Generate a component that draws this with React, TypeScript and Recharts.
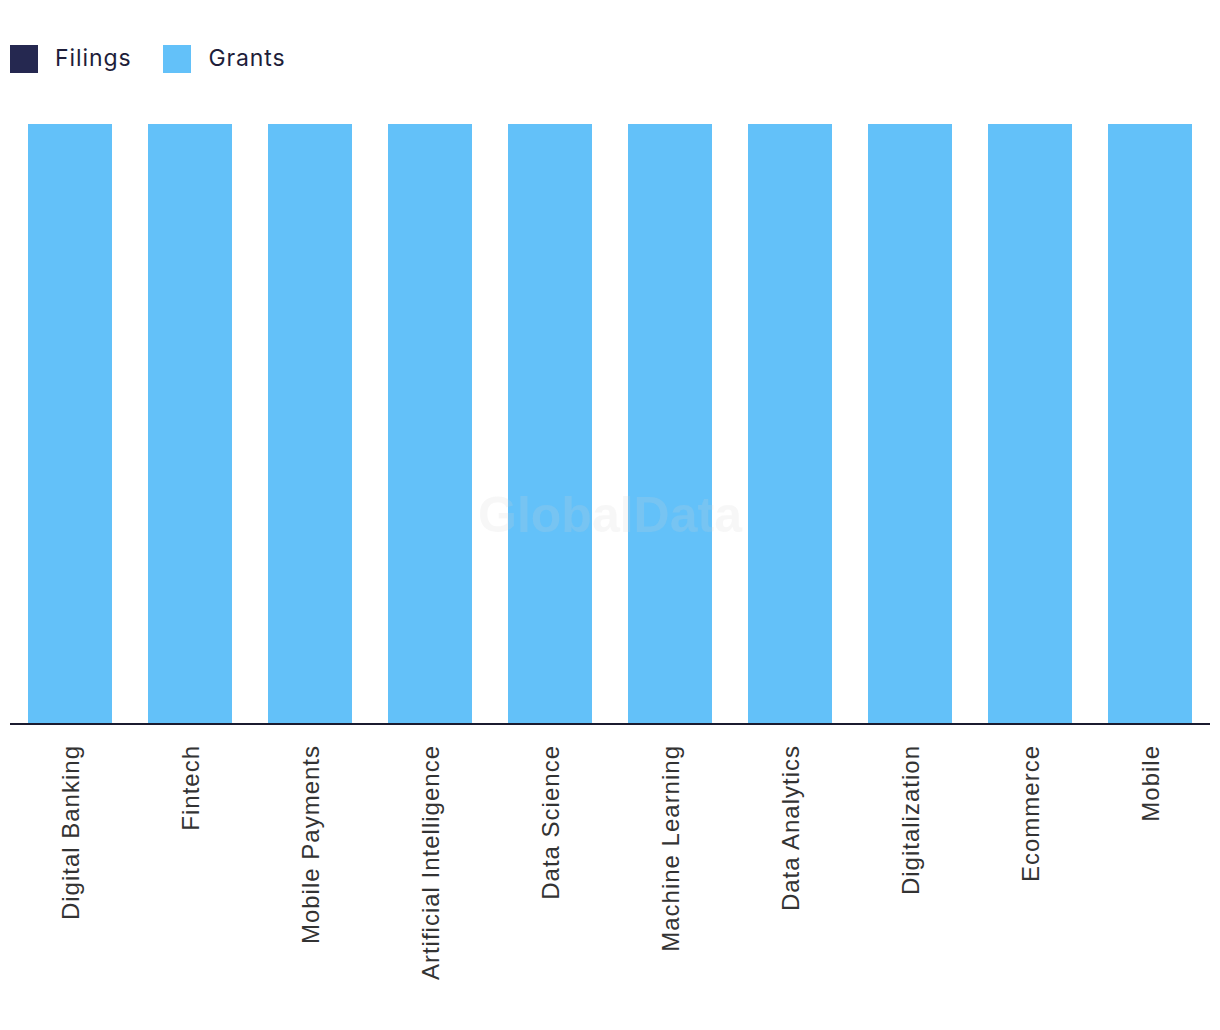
import { BarChart, Bar, XAxis, YAxis } from "recharts";

const categories = [
  "Digital Banking",
  "Fintech",
  "Mobile Payments",
  "Artificial Intelligence",
  "Data Science",
  "Machine Learning",
  "Data Analytics",
  "Digitalization",
  "Ecommerce",
  "Mobile",
];
const filings = [0, 0, 0, 0, 0, 0, 0, 0, 0, 0];
const grants = [100, 100, 100, 100, 100, 100, 100, 100, 100, 100];

const FILINGS_COLOR = "#252850";
const GRANTS_COLOR = "#63c1f9";

const data = categories.map((name, i) => ({
  name,
  filings: filings[i],
  grants: grants[i],
}));

function RotatedTick(props: any) {
  const { x, y, payload } = props;
  const ty = y + 21;
  return (
    <text
      x={x}
      y={ty}
      transform={`rotate(-90 ${x} ${ty})`}
      textAnchor="end"
      dominantBaseline="central"
      fill="#333333"
      fontSize={24}
      letterSpacing={1}
      fontFamily="'Liberation Sans', Arial, sans-serif"
    >
      {payload.value}
    </text>
  );
}

function LegendItem({ color, label }: { color: string; label: string }) {
  return (
    <div style={{ display: "flex", alignItems: "center", marginRight: 32 }}>
      <div style={{ width: 28, height: 28, background: color, marginRight: 17 }} />
      <span
        style={{
          fontSize: 23,
          letterSpacing: 0.9,
          color: "#1e1e3a",
          fontFamily: "Inter, sans-serif",
          position: "relative",
          top: -1,
        }}
      >
        {label}
      </span>
    </div>
  );
}

export default function App() {
  return (
    <div style={{ position: "relative", width: 1204, height: 1014 }}>
      {/* legend */}
      <div style={{ position: "absolute", top: 37, left: 2, display: "flex" }}>
        <LegendItem color={FILINGS_COLOR} label="Filings" />
        <LegendItem color={GRANTS_COLOR} label="Grants" />
      </div>

      <BarChart
        width={1204}
        height={1006}
        data={data}
        margin={{ top: 116, right: 2, bottom: 0, left: 2 }}
        barCategoryGap="15%"
      >
        <XAxis
          dataKey="name"
          interval={0}
          tickLine={false}
          tickSize={0}
          tickMargin={0}
          height={290}
          axisLine={{ stroke: "#1b1b2f", strokeWidth: 2 }}
          tick={<RotatedTick />}
        />
        <YAxis hide domain={[0, "dataMax"]} />
        <Bar dataKey="filings" stackId="a" fill={FILINGS_COLOR} isAnimationActive={false} />
        <Bar dataKey="grants" stackId="a" fill={GRANTS_COLOR} isAnimationActive={false} />
      </BarChart>

      {/* watermark */}
      <div
        style={{
          position: "absolute",
          left: 602,
          top: 507,
          transform: "translate(-50%, -50%)",
          fontSize: 50,
          fontWeight: 700,
          fontFamily: "'Liberation Sans', Arial, sans-serif",
          color: "rgba(210, 210, 210, 0.18)",
          pointerEvents: "none",
          whiteSpace: "nowrap",
        }}
      >
        GlobalData
      </div>
    </div>
  );
}
